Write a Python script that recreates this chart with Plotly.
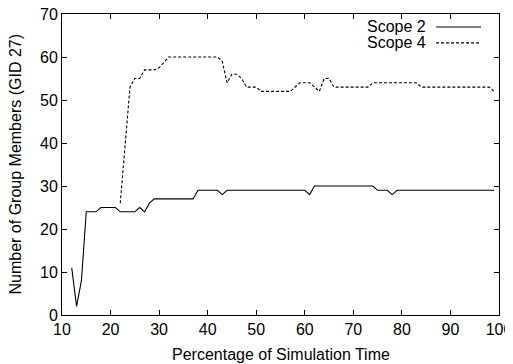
import plotly.graph_objects as go

scope2_x = [12, 13, 14, 15, 17, 18, 21, 22, 25, 26, 27, 28, 29, 37, 38, 42, 43, 44, 60, 61, 62, 74, 75, 77, 78, 79, 99]
scope2_y = [11, 2, 8, 24, 24, 25, 25, 24, 24, 25, 24, 26, 27, 27, 29, 29, 28, 29, 29, 28, 30, 30, 29, 29, 28, 29, 29]

scope4_x = [22, 23, 24, 25, 26, 27, 29, 30, 32, 42, 43, 44, 45, 46, 47, 48, 50, 51, 57, 59, 61, 63, 64, 65, 66, 73, 74, 83, 84, 98, 99]
scope4_y = [26, 40, 53, 55, 55, 57, 57, 57.5, 60, 60, 59, 54, 56, 56, 55, 53, 53, 52, 52, 54, 54, 52, 55, 55, 53, 53, 54, 54, 53, 53, 52]

series_names = ["Scope 2", "Scope 4"]
x_ticks = [10, 20, 30, 40, 50, 60, 70, 80, 90, 100]
y_ticks = [0, 10, 20, 30, 40, 50, 60, 70]
x_title = "Percentage of Simulation Time"
y_title = "Number of Group Members (GID 27)"

FONT = "Liberation Sans, Arial, sans-serif"
FS = 16

fig = go.Figure()
fig.add_trace(go.Scatter(x=scope2_x, y=scope2_y, mode="lines", name=series_names[0],
                         line=dict(color="black", width=1.1), showlegend=False))
fig.add_trace(go.Scatter(x=scope4_x, y=scope4_y, mode="lines", name=series_names[1],
                         line=dict(color="black", width=1.1, dash="3px,2px"), showlegend=False))

# legend drawn gnuplot-style: text right-aligned, sample on the right
for i, (name, dash) in enumerate(zip(series_names, ["solid", "3px,2px"])):
    ypos = 0.957 - i * 0.053
    fig.add_annotation(x=0.833, y=ypos, xref="paper", yref="paper", text=name,
                       showarrow=False, xanchor="right", yanchor="middle", xshift=2,
                       font=dict(family=FONT, size=FS, color="black"))
    fig.add_shape(type="line", xref="paper", yref="paper", x0=0.856, x1=0.959, y0=ypos, y1=ypos,
                  line=dict(color="black", width=1.1, dash=dash))

# axis titles
fig.add_annotation(x=0.5, y=0, xref="paper", yref="paper", yshift=-39, text=x_title,
                   showarrow=False, xanchor="center", yanchor="middle",
                   font=dict(family=FONT, size=FS, color="black"))
fig.add_annotation(x=0, y=0.5, xref="paper", yref="paper", xshift=-47, text=y_title, textangle=-90,
                   showarrow=False, xanchor="center", yanchor="middle",
                   font=dict(family=FONT, size=FS, color="black"))

axis_common = dict(showline=True, linecolor="black", linewidth=1, mirror="allticks",
                   ticks="inside", ticklen=5, tickcolor="black", showgrid=False, zeroline=False,
                   automargin=False, ticklabeloverflow="allow",
                   tickfont=dict(family=FONT, size=FS, color="black"))

fig.update_xaxes(range=[10, 100], tickvals=x_ticks, ticktext=[str(v) for v in x_ticks], **axis_common)
fig.update_yaxes(range=[0, 70], tickvals=y_ticks, ticktext=[str(v) for v in y_ticks], **axis_common)

# page body has an 8px default margin, so the figure is sized/offset to compensate
fig.update_layout(width=505, height=356, margin=dict(l=54, r=14, t=6, b=49),
                  paper_bgcolor="white", plot_bgcolor="white")

fig.write_html("out.html")
